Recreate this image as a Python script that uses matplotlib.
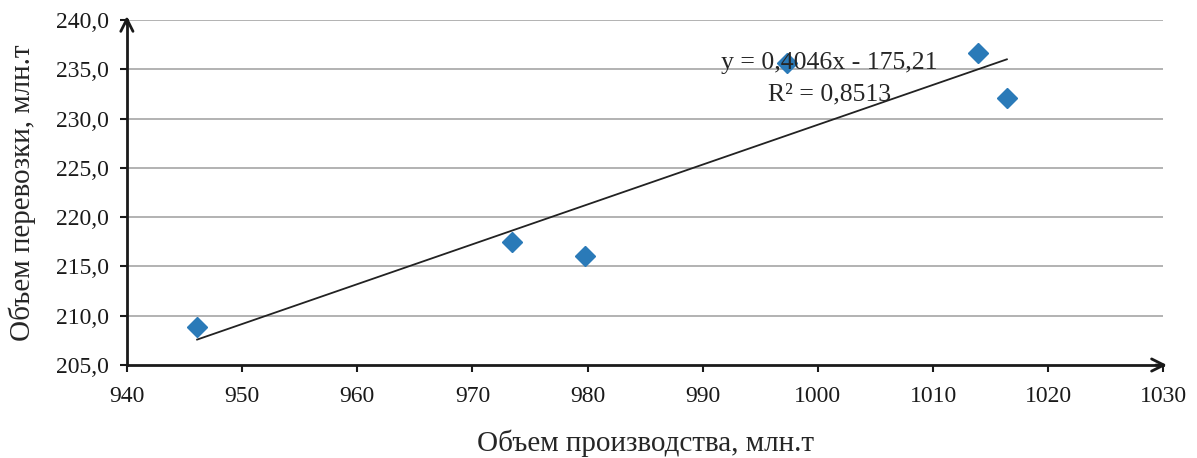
import numpy as np
from matplotlib import pyplot as plt

plt.rcParams['font.family'] = ['Liberation Serif', 'DejaVu Serif']

# data
prod = [946.1, 973.4, 979.8, 997.3, 1013.9, 1016.4]
transp = [208.9, 217.5, 216.1, 235.7, 236.7, 232.1]
slope = 0.4046
icept = -175.21
r2 = 0.8513

xticks = [940, 950, 960, 970, 980, 990, 1000, 1010, 1020, 1030]
yticks = [205, 210, 215, 220, 225, 230, 235, 240]

fig = plt.figure(figsize=(11.97, 4.58), dpi=100)
ax = fig.add_axes([0.106, 0.203, 0.866, 0.753])

for t in yticks[1:]:
    ax.axhline(t, color='#a6a6a6', lw=1.2, zorder=0)

xs = np.array([min(prod), max(prod)])
ax.plot(xs, slope * xs + icept, color='#222222', lw=1.3, zorder=2)
ax.plot(prod, transp, ls='none', marker='D', ms=10, color='#2a7ab8', zorder=3)

ax.set_xlim(940, 1030)
ax.set_ylim(205, 240)
ax.set_xticks(xticks)
ax.set_xticklabels([str(t) for t in xticks])
ax.set_yticks(yticks)
ax.set_yticklabels([f"{t:.1f}".replace('.', ',') for t in yticks])
ax.tick_params(labelsize=17, colors='#1a1a1a', length=5, width=1.5, pad=10)
ax.tick_params(axis='y', pad=8)

for s in ['top', 'right']:
    ax.spines[s].set_visible(False)
for s in ['left', 'bottom']:
    ax.spines[s].set_linewidth(2)
    ax.spines[s].set_color('#1a1a1a')

# arrows on axes
ax.annotate('', xy=(1.006, 0), xycoords='axes fraction', xytext=(0.99, 0),
            arrowprops=dict(arrowstyle='->', lw=2, color='#1a1a1a', mutation_scale=22),
            annotation_clip=False)
ax.annotate('', xy=(0, 1.02), xycoords='axes fraction', xytext=(0, 0.98),
            arrowprops=dict(arrowstyle='->', lw=2, color='#1a1a1a', mutation_scale=22),
            annotation_clip=False)

ax.text(0.678, 0.875, f"y = {slope:.4f}x - {abs(icept):.2f}".replace('.', ','),
        transform=ax.transAxes, ha='center', va='center', fontsize=18.5, color='#262626')
ax.text(0.678, 0.785, f"R² = {r2:.4f}".replace('.', ','),
        transform=ax.transAxes, ha='center', va='center', fontsize=18.5, color='#262626')

ax.set_xlabel('Объем производства, млн.т', fontsize=21, color='#262626', labelpad=16)
ax.set_ylabel('Объем перевозки, млн.т', fontsize=21, color='#262626', labelpad=14)

fig.savefig('out.png', dpi=100)
